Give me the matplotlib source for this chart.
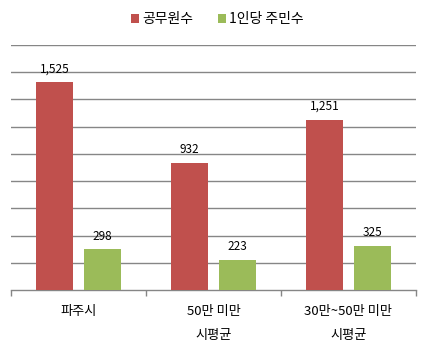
import numpy as np
import matplotlib
matplotlib.use('Agg')
import matplotlib.pyplot as plt

plt.rcParams['font.family'] = ['Noto Sans CJK KR', 'DejaVu Sans']

# Data
categories = ['파주시', '50만 미만\n시평균', '30만~50만 미만\n시평균']
officials = [1525, 932, 1251]
residents_per = [298, 223, 325]
series_names = ['공무원수', '1인당 주민수']

red = '#C0504D'
green = '#9BBB59'
grid_color = '#868686'

fig = plt.figure(figsize=(4.30, 3.52), dpi=100)
ax = fig.add_axes([11 / 430, 1 - 290 / 352, 405 / 430, 245 / 352])

x = np.arange(len(categories))
w = 0.274
off = 0.178
b1 = ax.bar(x - off, officials, w, color=red, label=series_names[0], zorder=3)
b2 = ax.bar(x + off, residents_per, w, color=green, label=series_names[1], zorder=3)

for bars, vals in [(b1, officials), (b2, residents_per)]:
    for rect, v in zip(bars, vals):
        ax.text(rect.get_x() + rect.get_width() / 2, v + 50, f'{v:,}',
                ha='center', va='bottom', fontsize=8.5, color='black')

ax.set_xlim(-0.5, 2.5)
ax.set_ylim(0, 1800)
ax.set_yticks(np.arange(200, 1801, 200))
ax.yaxis.grid(True, color=grid_color, linewidth=1.0, zorder=0)
ax.tick_params(axis='y', length=0, labelleft=False)

ax.set_xticks(x)
ax.set_xticklabels(categories, fontsize=9.5, linespacing=2.1)
ax.set_xticks([-0.5, 0.5, 1.5, 2.5], minor=True)
ax.tick_params(axis='x', which='major', length=0, pad=11)
ax.tick_params(axis='x', which='minor', length=4, color=grid_color, width=1.0)

for s in ['top', 'right', 'left']:
    ax.spines[s].set_visible(False)
ax.spines['bottom'].set_color(grid_color)
ax.spines['bottom'].set_linewidth(1.0)

fig.legend(loc='upper center', bbox_to_anchor=(0.505, 1.0), ncol=2, frameon=False,
           fontsize=10, handlelength=0.6, handleheight=0.6, handletextpad=0.2,
           columnspacing=1.8)

fig.savefig('out.png', dpi=100)
